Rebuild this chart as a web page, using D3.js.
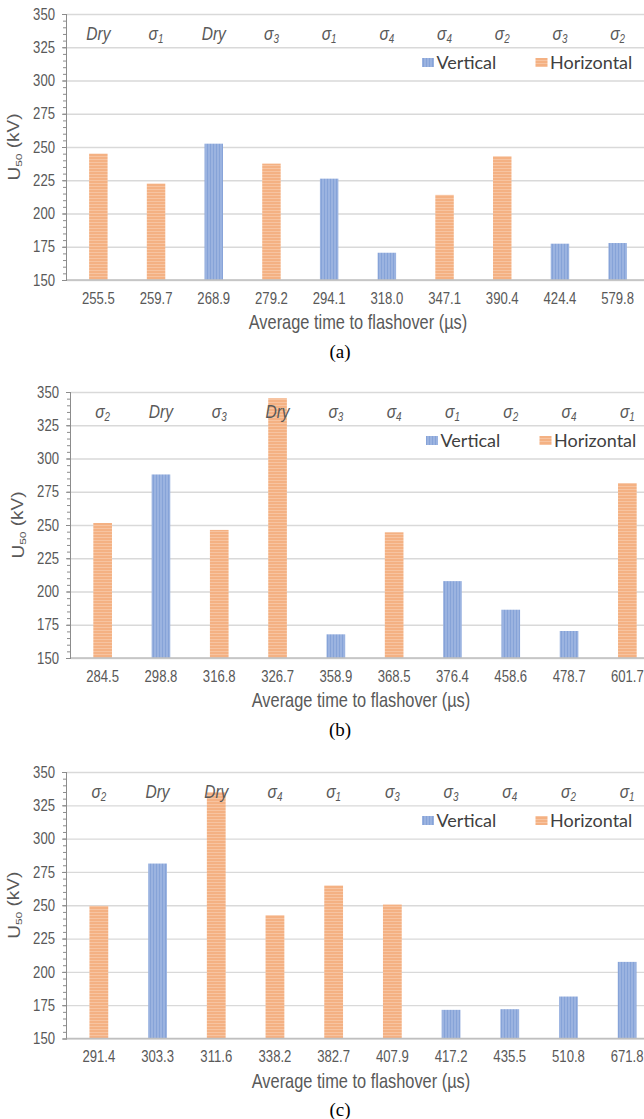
<!DOCTYPE html>
<html><head><meta charset="utf-8">
<script src="https://cdn.jsdelivr.net/npm/d3@7"></script>
<style>body{margin:0;background:#fff} svg{display:block}</style>
</head><body>
<svg id="chart" width="644" height="1119"></svg>
<script>
// ---------- data ----------
const yTicks = [150,175,200,225,250,275,300,325,350];
const seriesNames = ['Vertical','Horizontal'];
const captions = ['(a)','(b)','(c)'];
const xTitle = 'Average time to flashover (µs)';

const timesA  = ['255.5','259.7','268.9','279.2','294.1','318.0','347.1','390.4','424.4','579.8'];
const condA   = ['Dry','σ1','Dry','σ3','σ1','σ4','σ4','σ2','σ3','σ2'];
const orientA = ['Horizontal','Horizontal','Vertical','Horizontal','Vertical','Vertical','Horizontal','Horizontal','Vertical','Vertical'];
const valuesA = [245,222.5,252.5,237.5,226.2,170.5,214,243,177.3,177.8];

const timesB  = ['284.5','298.8','316.8','326.7','358.9','368.5','376.4','458.6','478.7','601.7'];
const condB   = ['σ2','Dry','σ3','Dry','σ3','σ4','σ1','σ2','σ4','σ1'];
const orientB = ['Horizontal','Vertical','Horizontal','Horizontal','Vertical','Horizontal','Vertical','Vertical','Vertical','Horizontal'];
const valuesB = [251.5,288,246.3,345.3,167.8,244.5,207.8,186.3,170.3,281.5];

const timesC  = ['291.4','303.3','311.6','338.2','382.7','407.9','417.2','435.5','510.8','671.8'];
const condC   = ['σ2','Dry','Dry','σ4','σ1','σ3','σ3','σ4','σ2','σ1'];
const orientC = ['Horizontal','Vertical','Horizontal','Horizontal','Horizontal','Horizontal','Vertical','Vertical','Vertical','Vertical'];
const valuesC = [249.5,281.3,334.8,242.5,264.8,250.5,171.5,172,181.5,207.5];

const panelData = [
  {times: timesA, cond: condA, orient: orientA, values: valuesA},
  {times: timesB, cond: condB, orient: orientB, values: valuesB},
  {times: timesC, cond: condC, orient: orientC, values: valuesC}
];

// ---------- layout ----------
const layout = [
  {top:14,  bottom:280,  x0:69.5, x1:646.5, titleX:358, capX:340},
  {top:392, bottom:658,  x0:73.5, x1:656.5, titleX:361, capX:340},
  {top:772, bottom:1038.5, x0:69.5, x1:656.5, titleX:361, capX:340}
];
const SQ = 0.82;
const SANS = "'Liberation Sans', Arial, sans-serif";
const GREY = '#595959';

const svg = d3.select('#chart');
const defs = svg.append('defs');
// horizontal-stripe orange pattern
const pH = defs.append('pattern').attr('id','patH').attr('patternUnits','userSpaceOnUse')
  .attr('width',4).attr('height',3);
pH.append('rect').attr('width',4).attr('height',3).attr('fill','#F4B183');
pH.append('rect').attr('width',4).attr('height',1).attr('fill','#F7C4A1');
// vertical-stripe blue pattern
const pV = defs.append('pattern').attr('id','patV').attr('patternUnits','userSpaceOnUse')
  .attr('width',3).attr('height',4);
pV.append('rect').attr('width',3).attr('height',4).attr('fill','#9BB3E0');
pV.append('rect').attr('width',1).attr('height',4).attr('fill','#86A3D8');
const fillOf = {Vertical:'url(#patV)', Horizontal:'url(#patH)'};

function squeeze(sel){
  sel.each(function(){
    const t = d3.select(this);
    const x = +(t.attr('x')||0);
    t.attr('x', x/SQ).attr('transform', `scale(${SQ},1)`);
  });
}
function sqText(g, x, y, str){
  return g.append('text').attr('transform',`translate(${x},${y}) scale(${SQ},1)`).text(str);
}

panelData.forEach((pd, i) => {
  const L = layout[i];
  const g = svg.append('g');
  const y = d3.scaleLinear().domain([150,350]).range([L.bottom, L.top]);
  const x = d3.scaleBand().domain(pd.times).range([L.x0, L.x1]).paddingInner(0.68).paddingOuter(0.34);
  const axisX = L.x0 - 2.5;

  // gridlines
  const grid = g.append('g').attr('transform',`translate(${axisX},0)`)
    .call(d3.axisLeft(y).tickValues(yTicks).tickSize(-(L.x1 - axisX + 20)).tickFormat(''));
  grid.select('.domain').remove();
  grid.selectAll('line').attr('stroke','#D9D9D9').attr('stroke-width',1.3);

  // bars
  g.append('g').selectAll('rect').data(pd.values).join('rect')
    .attr('x',(d,j)=>x(pd.times[j]))
    .attr('width',x.bandwidth())
    .attr('y',d=>y(d))
    .attr('height',d=>y(150)-y(d))
    .attr('fill',(d,j)=>fillOf[pd.orient[j]]);

  // baseline
  g.append('line').attr('x1',axisX).attr('x2',660).attr('y1',y(150)).attr('y2',y(150))
    .attr('stroke','#BFBFBF').attr('stroke-width',1.3);

  // minor ticks
  const minor = g.append('g').attr('transform',`translate(${axisX},0)`)
    .call(d3.axisLeft(y).tickValues(d3.range(150,351,5)).tickSize(4).tickFormat(''));
  minor.select('.domain').remove();
  minor.selectAll('line').attr('stroke','#8C8C8C');

  // major y axis
  const ya = g.append('g').attr('transform',`translate(${axisX},0)`)
    .call(d3.axisLeft(y).tickValues(yTicks).tickSize(5).tickPadding(7));
  ya.select('.domain').attr('stroke','#8C8C8C').attr('d',`M-0.5,${y(350)}V${y(150)}`);
  ya.selectAll('line').attr('stroke','#8C8C8C');
  ya.selectAll('text').attr('fill',GREY).attr('font-size',16).attr('font-family',SANS);
  squeeze(ya.selectAll('text'));

  // x axis labels
  const xa = g.append('g').attr('transform',`translate(0,${L.bottom})`)
    .call(d3.axisBottom(x).tickSize(0).tickPadding(0));
  xa.select('.domain').remove();
  xa.selectAll('text').attr('fill',GREY).attr('font-size',16).attr('font-family',SANS)
    .attr('y',18).attr('dy','0.35em');
  squeeze(xa.selectAll('text'));

  // condition labels
  const cl = g.append('g').selectAll('text').data(pd.cond).join('text')
    .attr('transform',(d,j)=>`translate(${x(pd.times[j]) + x.bandwidth()/2},${L.top + 19}) scale(${SQ},1)`)
    .attr('text-anchor','middle').attr('dy','0.35em')
    .attr('font-family',SANS).attr('font-style','italic').attr('font-size',19).attr('fill',GREY);
  cl.each(function(d){
    const t = d3.select(this);
    if (d.startsWith('σ')) {
      t.append('tspan').text('σ');
      t.append('tspan').attr('font-size',12).attr('dy','0.3em').text(d.slice(1));
    } else t.text(d);
  });

  // legend
  const lx = L.x0 + 352.5, ly = L.top + 48.5;
  const legendPos = [0, 113.5];
  seriesNames.forEach((s,k) => {
    g.append('rect').attr('x',lx + legendPos[k]).attr('y',ly-4.5).attr('width',12).attr('height',9)
      .attr('fill',fillOf[s]);
    g.append('text').attr('x', lx + legendPos[k] + 14.5).attr('y', ly).text(s).attr('dy','0.35em')
      .attr('font-family',"Lato, 'Open Sans', sans-serif").attr('font-size',18).attr('fill','#404040');
  });

  // y title
  const yt = g.append('text')
    .attr('transform',`translate(${axisX - 47},${(L.top+L.bottom)/2}) rotate(-90) scale(1,${SQ})`)
    .attr('text-anchor','middle').attr('font-family',SANS).attr('font-size',19).attr('fill',GREY);
  yt.append('tspan').text('U');
  yt.append('tspan').attr('font-size',12).attr('dy','0.25em').text('50');
  yt.append('tspan').attr('dy','-0.2em').text(' (kV)');

  // x title
  sqText(g, L.titleX, L.bottom + 42, xTitle).attr('text-anchor','middle').attr('dy','0.35em')
    .attr('font-family',SANS).attr('font-size',20).attr('fill',GREY);

  // caption
  g.append('text').attr('x',L.capX).attr('y',L.bottom + 71).attr('dy','0.35em')
    .attr('text-anchor','middle').attr('font-family',"'Liberation Serif','Times New Roman',serif")
    .attr('font-size',19).attr('fill','#000').text(captions[i]);
});
</script>
</body></html>
